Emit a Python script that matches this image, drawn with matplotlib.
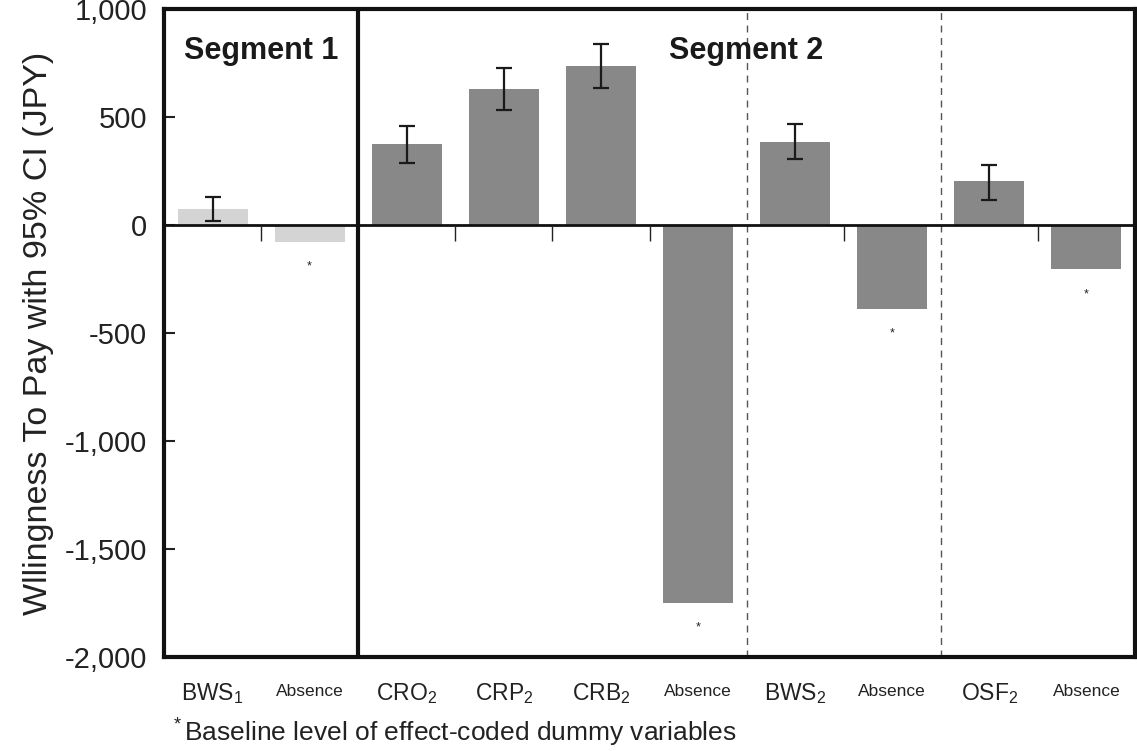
import matplotlib
matplotlib.use("Agg")
import matplotlib.pyplot as plt
import numpy as np

plt.rcParams['font.family'] = ['Liberation Sans', 'DejaVu Sans']
plt.rcParams['mathtext.fontset'] = 'custom'
plt.rcParams['mathtext.rm'] = 'Liberation Sans'
plt.rcParams['mathtext.it'] = 'Liberation Sans'

# ---- data ----
labels = ["BWS$_1$", "Absence", "CRO$_2$", "CRP$_2$", "CRB$_2$", "Absence",
          "BWS$_2$", "Absence", "OSF$_2$", "Absence"]
values = [72, -77, 377, 629, 735, -1750, 384, -388, 202, -206]
ci_low = [17, None, 289, 531, 633, None, 304, None, 117, None]
ci_high = [128, None, 459, 725, 837, None, 468, None, 280, None]
segment = [1, 1, 2, 2, 2, 2, 2, 2, 2, 2]
baseline = [False, True, False, False, False, True, False, True, False, True]
yticks = [1000, 500, 0, -500, -1000, -1500, -2000]
ytick_labels = ["1,000", "500", "0", "-500", "-1,000", "-1,500", "-2,000"]

fig = plt.figure(figsize=(11.37, 7.51), dpi=100)
ax = fig.add_axes([164/1137, 94/751, (1135-164)/1137, (657-9)/751])

x = np.arange(len(values))
colors = ['#d4d4d4' if s == 1 else '#888888' for s in segment]
ax.bar(x, values, width=0.72, color=colors, zorder=2)

for i in range(len(values)):
    if ci_low[i] is not None:
        ax.errorbar(x[i], values[i],
                    yerr=[[values[i] - ci_low[i]], [ci_high[i] - values[i]]],
                    fmt='none', ecolor='#1a1a1a', elinewidth=1.6,
                    capsize=5.8, capthick=1.6, zorder=3)
    if baseline[i]:
        ax.annotate('*', (x[i], values[i]), xytext=(0, -22),
                    textcoords='offset points', ha='center', va='bottom',
                    fontsize=9, color='#222222')

ax.set_xlim(-0.5, len(values) - 0.5)
ax.set_ylim(-2000, 1000)

# zero line
ax.axhline(0, color='#111111', lw=2, zorder=4)

# segment divider and dashed group separators
ax.axvline(1.5, color='#111111', lw=3, zorder=5)
for b in [5.5, 7.5]:
    ax.axvline(b, color='#555555', lw=1, ls=(0, (5, 4)), zorder=1)

# small boundary ticks on the zero line
for b in [0.5, 2.5, 3.5, 4.5, 6.5, 8.5]:
    ax.vlines(b, -75, 0, color='#222222', lw=1, zorder=4)

# frame
for sp in ax.spines.values():
    sp.set_linewidth(3)
    sp.set_color('#111111')

ax.set_yticks(yticks)
ax.set_yticklabels(ytick_labels, fontsize=21, color='#222222')
ax.tick_params(axis='y', direction='in', length=8, width=1.5, pad=12,
               color='#222222')

ax.set_xticks(x)
ax.set_xticklabels([])
ax.tick_params(axis='x', length=0)
for i, lab in enumerate(labels):
    if lab == "Absence":
        ax.text(x[i], -0.053, lab, transform=ax.get_xaxis_transform(),
                ha='center', va='center', fontsize=12.5, color='#222222')
    else:
        ax.text(x[i], -0.056, lab, transform=ax.get_xaxis_transform(),
                ha='center', va='center', fontsize=16.5, color='#222222')

ax.set_ylabel("Wllingness To Pay with 95% CI (JPY)", fontsize=24.5,
              color='#222222', labelpad=8)

ax.text(0.5, 0.935, "Segment 1", transform=ax.get_xaxis_transform(),
        ha='center', va='center', fontsize=22, fontweight='bold',
        color='#1a1a1a')
ax.text(5.5, 0.935, "Segment 2", transform=ax.get_xaxis_transform(),
        ha='center', va='center', fontsize=22, fontweight='bold',
        color='#1a1a1a')

fig.text(170/1137, 1 - 733/751, "$^*$Baseline level of effect-coded dummy variables",
         ha='left', va='center', fontsize=19, color='#222222')

fig.savefig("out.png", dpi=100)
